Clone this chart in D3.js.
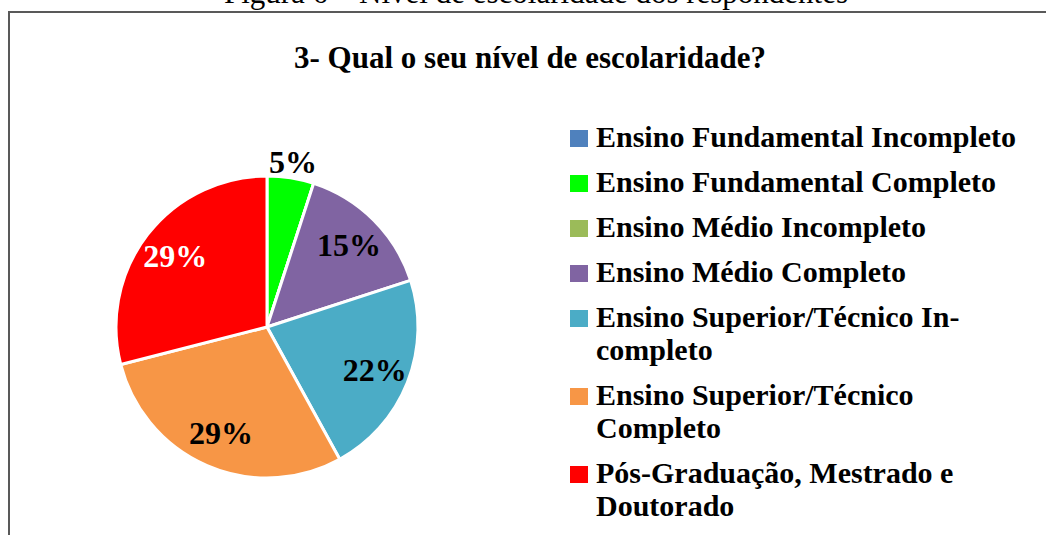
<html>
<head>
<meta charset="utf-8">
<title>Nivel de escolaridade</title>
<script src="https://d3js.org/d3.v7.min.js"></script>
<style>
  body { margin: 0; background: white; }
  text { font-family: "Liberation Serif", "Times New Roman", serif; }
</style>
</head>
<body>
<svg id="chart" width="1046" height="535"></svg>
<script>
// data (percent of respondents)
var categories = [
  "Ensino Fundamental Incompleto",
  "Ensino Fundamental Completo",
  "Ensino Médio Incompleto",
  "Ensino Médio Completo",
  "Ensino Superior/Técnico Incompleto",
  "Ensino Superior/Técnico Completo",
  "Pós-Graduação, Mestrado e Doutorado"
];
var values = [0, 5, 0, 15, 22, 29, 29];
var colors = ["#4F81BD", "#00FF00", "#9BBB59", "#8064A2", "#4BACC6", "#F79646", "#FF0000"];
// legend text as it is wrapped in the picture
var legendLines = [
  ["Ensino Fundamental Incompleto"],
  ["Ensino Fundamental Completo"],
  ["Ensino Médio Incompleto"],
  ["Ensino Médio Completo"],
  ["Ensino Superior/Técnico In-", "completo"],
  ["Ensino Superior/Técnico", "Completo"],
  ["Pós-Graduação, Mestrado e", "Doutorado"]
];
var labelColors = ["black", "black", "black", "black", "black", "black", "white"];

var svg = d3.select("#chart");

// caption above the frame (cut at the top of the picture)
svg.append("text")
  .attr("x", 536).attr("y", 3)
  .attr("text-anchor", "middle")
  .style("font-size", "31px")
  .text("Figura 6 – Nível de escolaridade dos respondentes");

// chart frame, only top and left edges are visible
svg.append("path")
  .attr("d", "M9,535V12H1046")
  .attr("fill", "none")
  .attr("stroke", "#595959")
  .attr("stroke-width", 2);

svg.append("text")
  .attr("x", 530).attr("y", 68)
  .attr("text-anchor", "middle")
  .style("font-size", "31px")
  .style("font-weight", "bold")
  .text("3- Qual o seu nível de escolaridade?");

var cx = 267, cy = 327, R = 151;
var pie = d3.pie().sort(null).value(function (d) { return d; });
var arcs = pie(values);
var arc = d3.arc().innerRadius(0).outerRadius(R);
var labelArc = d3.arc().innerRadius(116).outerRadius(116);
var outArc = d3.arc().innerRadius(167).outerRadius(167);

var g = svg.append("g").attr("transform", "translate(" + cx + "," + cy + ")");

g.selectAll("path")
  .data(arcs)
  .enter()
  .append("path")
    .attr("d", arc)
    .attr("fill", function (d, i) { return colors[i]; })
    .attr("stroke", "white")
    .attr("stroke-width", 3)
    .attr("stroke-linejoin", "round");

g.selectAll("text.lbl")
  .data(arcs.filter(function (d) { return d.value > 0; }))
  .enter()
  .append("text")
    .attr("class", "lbl")
    .attr("transform", function (d) {
      var p = d.value < 10 ? outArc.centroid(d) : labelArc.centroid(d);
      return "translate(" + p[0] + "," + p[1] + ")";
    })
    .attr("dy", "0.34em")
    .attr("text-anchor", "middle")
    .style("font-size", "32px")
    .style("font-weight", "bold")
    .attr("fill", function (d) { return labelColors[d.index]; })
    .text(function (d) { return d.value + "%"; });

// legend
var rowTop = [147];
for (var i = 1; i < legendLines.length; i++) {
  rowTop.push(rowTop[i - 1] + legendLines[i - 1].length * 33 + 12);
}

var leg = svg.append("g");
var items = leg.selectAll("g")
  .data(categories)
  .enter()
  .append("g")
    .attr("transform", function (d, i) { return "translate(570," + rowTop[i] + ")"; });

items.append("rect")
  .attr("x", 0).attr("y", -17)
  .attr("width", 18).attr("height", 17)
  .attr("fill", function (d, i) { return colors[i]; });

items.append("text")
  .attr("x", 26)
  .style("font-size", "30px")
  .style("font-weight", "bold")
  .selectAll("tspan")
  .data(function (d, i) { return legendLines[i]; })
  .enter()
  .append("tspan")
    .attr("x", 26)
    .attr("y", function (d, j) { return j * 33; })
    .text(function (d) { return d; });
</script>
</body>
</html>
